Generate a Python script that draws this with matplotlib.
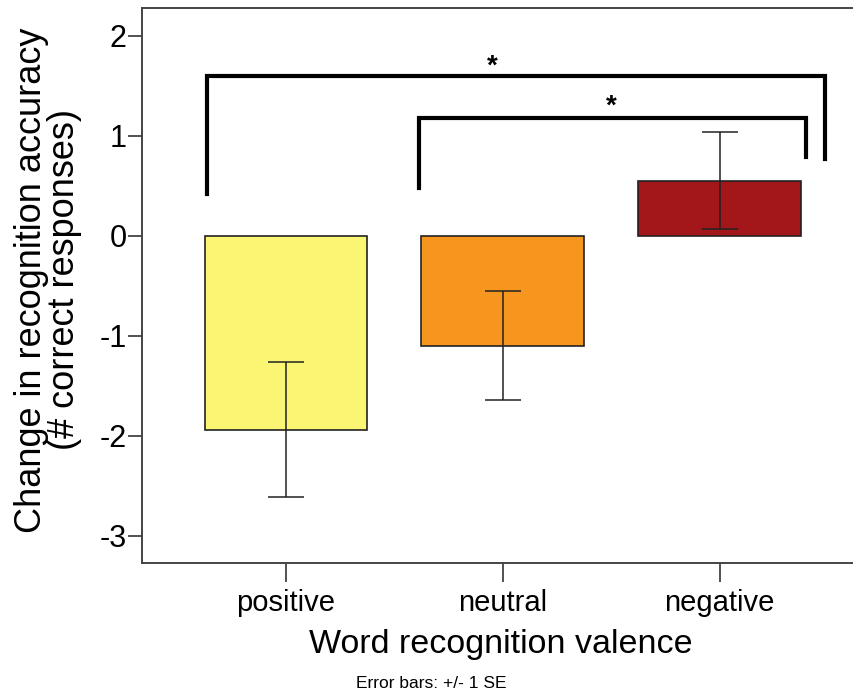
import matplotlib
matplotlib.use("Agg")
import matplotlib.pyplot as plt

categories = ["positive", "neutral", "negative"]
means = [-1.94, -1.10, 0.55]
se = [0.675, 0.545, 0.485]
colors = ["#FAF572", "#F7961F", "#A3161A"]

# significance brackets: (x_left, x_right, y_top, y_left_bottom, y_right_bottom)
brackets = [
    (-0.364, 2.486, 1.60, 0.42, 0.77),
    (0.613, 2.398, 1.18, 0.48, 0.79),
]
# star positions (x, y) in data coordinates
stars = [(0.95, 1.555), (1.50, 1.155)]

plt.rcParams['font.family'] = ['Liberation Sans', 'DejaVu Sans']

fig = plt.figure(figsize=(8.54, 6.98), dpi=100)
ax = fig.add_axes([0.166, 0.1934, 0.834, 0.7951])

x = list(range(len(categories)))
ax.bar(x, means, width=0.75, color=colors, edgecolor="#222222", linewidth=1.2, zorder=2)
ax.errorbar(x, means, yerr=se, fmt='none', ecolor="#222222", elinewidth=1.1,
            capsize=13, capthick=1.1, zorder=3)

for xl, xr, yt, ylb, yrb in brackets:
    ax.plot([xl, xl, xr, xr], [ylb, yt, yt, yrb], color="black", linewidth=3.0,
            solid_joinstyle='miter', zorder=4)
for sx, sy in stars:
    ax.text(sx, sy, "*", ha="center", va="bottom", fontsize=20,
            fontweight="bold", color="black")

ax.set_xlim(-0.665, 2.62)
ax.set_ylim(-3.275, 2.275)
ax.set_yticks([-3, -2, -1, 0, 1, 2])
ax.set_yticklabels(["-3", "-2", "-1", "0", "1", "2"])
ax.set_xticks(x)
ax.set_xticklabels(categories)

ax.tick_params(axis='y', length=10, width=1.2, labelsize=22, pad=1, colors="#333333",
               labelcolor="black")
ax.tick_params(axis='x', length=14, width=1.2, labelsize=21, pad=5, colors="#333333",
               labelcolor="black")

for s in ["left", "bottom", "top"]:
    ax.spines[s].set_color("#444444")
    ax.spines[s].set_linewidth(1.4)
ax.spines["right"].set_visible(False)

fig.text(501 / 854, 1 - 645 / 698, "Word recognition valence", ha="center", va="center",
         fontsize=24.5)
fig.text(48 / 854, 1 - 280 / 698, "Change in recognition accuracy\n(# correct responses)",
         ha="center", va="center", rotation=90, fontsize=26, linespacing=0.92,
         multialignment="center")

fig.text(431 / 854, 1 - 684 / 698, "Error bars: +/- 1 SE", ha="center", va="center",
         fontsize=12.5)

fig.savefig("out.png", dpi=100)
